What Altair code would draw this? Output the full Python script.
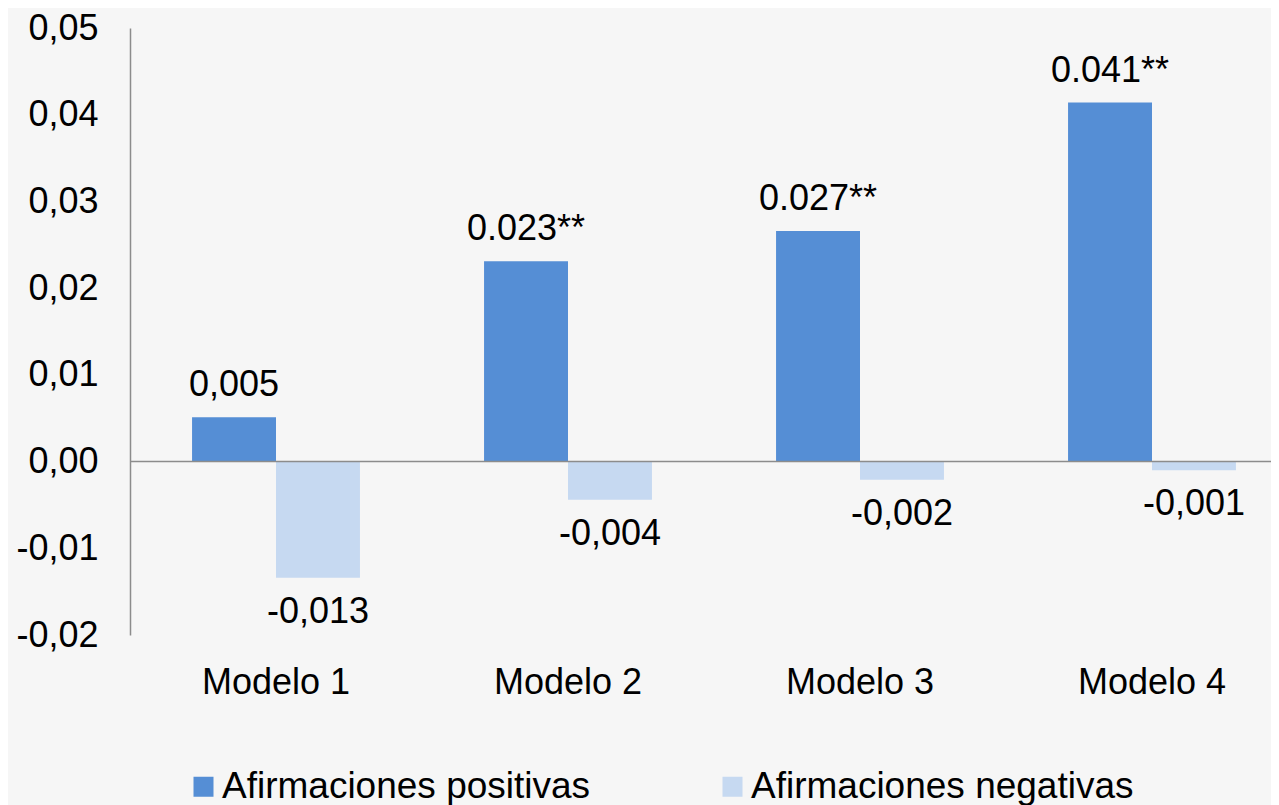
import altair as alt
import pandas as pd

modelos = ["Modelo 1", "Modelo 2", "Modelo 3", "Modelo 4"]
series = ["Afirmaciones positivas", "Afirmaciones negativas"]
positivas = [0.0051, 0.0231, 0.0266, 0.0414]
negativas = [-0.0134, -0.0044, -0.0021, -0.0010]
etiquetas_pos = ["0,005", "0.023**", "0.027**", "0.041**"]
etiquetas_neg = ["-0,013", "-0,004", "-0,002", "-0,001"]
colores = ["#558ed5", "#c6d9f1"]
ticks_y = [-0.02, -0.01, 0.0, 0.01, 0.02, 0.03, 0.04, 0.05]

rows = []
for m, v, t in zip(modelos, positivas, etiquetas_pos):
    rows.append({"modelo": m, "serie": series[0], "valor": v, "etiqueta": t})
for m, v, t in zip(modelos, negativas, etiquetas_neg):
    rows.append({"modelo": m, "serie": series[1], "valor": v, "etiqueta": t})
df = pd.DataFrame(rows)

FONT = "Liberation Sans"
W, H = 1141, 607

x_enc = alt.X(
    "modelo:N",
    sort=modelos,
    scale=alt.Scale(range=[0, 1168], paddingInner=0.425, paddingOuter=0.2125),
    axis=alt.Axis(title=None, domain=False, ticks=False, labelPadding=30,
                  labelFontSize=36, labelColor="black", labelAngle=0,
                  labelBaseline="top"),
)
xoff = alt.XOffset("serie:N", sort=series, scale=alt.Scale(paddingInner=0, paddingOuter=0))
y_enc = alt.Y(
    "valor:Q",
    scale=alt.Scale(domain=[-0.02, 0.05], nice=False, zero=False),
    axis=alt.Axis(title=None, values=ticks_y, grid=False, ticks=False,
                  domain=True, domainColor="#8c8c8c", domainWidth=1.5,
                  labelPadding=32, labelFontSize=36, labelColor="black",
                  labelExpr="replace(replace(format(datum.value, '.2f'), '.', ','), '\u2212', '-')"),
)

base = alt.Chart(df)

bars = base.mark_bar().encode(
    x=x_enc,
    xOffset=xoff,
    y=y_enc,
    color=alt.Color(
        "serie:N",
        sort=series,
        scale=alt.Scale(domain=series, range=colores),
        legend=alt.Legend(
            title=None, orient="none", direction="horizontal",
            legendX=55, legendY=740, padding=0,
            symbolType="square", symbolSize=400, symbolStrokeWidth=0,
            symbolOpacity=1, labelFontSize=37, labelColor="black",
            labelOffset=0, columnPadding=123, labelLimit=600,
        ),
    ),
)

zero = alt.Chart(pd.DataFrame({"valor": [0.0]})).mark_rule(
    color="#8c8c8c", strokeWidth=1.5
).encode(y="valor:Q")

txt_pos = base.transform_filter(alt.datum.serie == series[0]).mark_text(
    baseline="middle", align="center", dy=-32, fontSize=36, color="black"
).encode(x=x_enc, xOffset=xoff, y=y_enc, text="etiqueta:N")

txt_neg = base.transform_filter(alt.datum.serie == series[1]).mark_text(
    baseline="middle", align="center", dy=34, fontSize=36, color="black"
).encode(x=x_enc, xOffset=xoff, y=y_enc, text="etiqueta:N")

chart = alt.layer(bars, zero, txt_pos, txt_neg).properties(
    width=W, height=H,
    autosize=alt.AutoSizeParams(type="none"),
    padding={"left": 122, "top": 20, "right": 0, "bottom": 170},
    background="#f6f6f6",
).configure(font=FONT).configure_view(stroke=None)

chart.save("out.html", embed_options={"renderer": "svg", "actions": False})
